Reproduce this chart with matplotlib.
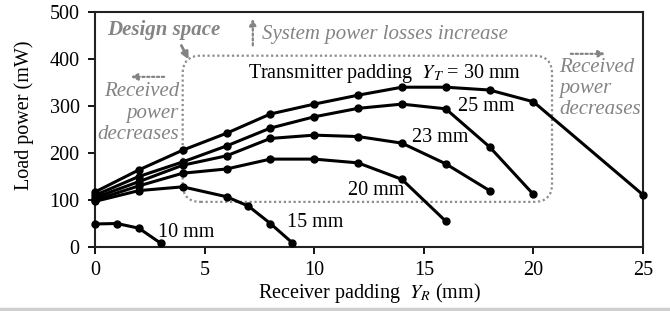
import numpy as np
import matplotlib
matplotlib.use("Agg")
import matplotlib.pyplot as plt
from matplotlib.patches import FancyBboxPatch
from matplotlib.lines import Line2D

plt.rcParams['font.family'] = ['Liberation Serif', 'DejaVu Serif']
plt.rcParams['mathtext.fontset'] = 'stix'

# receiver padding Y_R (mm) and load power (mW) for each transmitter padding Y_T
x30 = [0, 2, 4, 6, 8, 10, 12, 14, 16, 18, 20, 25]
y30 = [117, 164, 206, 242, 283, 304, 323, 340, 340, 334, 309, 111]
x25 = [0, 2, 4, 6, 8, 10, 12, 14, 16, 18, 20]
y25 = [110, 150, 181, 215, 253, 277, 295, 304, 294, 213, 112]
x23 = [0, 2, 4, 6, 8, 10, 12, 14, 16, 18]
y23 = [105, 139, 174, 194, 231, 238, 235, 221, 177, 120]
x20 = [0, 2, 4, 6, 8, 10, 12, 14, 16]
y20 = [100, 130, 157, 166, 187, 187, 179, 144, 55]
x15 = [0, 2, 4, 6, 7, 8, 9]
y15 = [97, 120, 128, 107, 87, 50, 9]
x10 = [0, 1, 2, 3]
y10 = [49, 50, 40, 8]

series = [(x30, y30), (x25, y25), (x23, y23), (x20, y20), (x15, y15), (x10, y10)]

gray = '#848484'
fs = 14.5
gfs = 15

fig = plt.figure(figsize=(6.7, 3.11), dpi=100)
ax = fig.add_axes([95/670, 1-247/311, (643-95)/670, (247-12)/311])

for xs, ys in series:
    ax.plot(xs, ys, color='black', lw=2.2, marker='o', ms=5, zorder=3, clip_on=False)

ax.set_xlim(0, 25)
ax.set_ylim(0, 500)
ax.set_xticks([0, 5, 10, 15, 20, 25])
ax.set_yticks([0, 100, 200, 300, 400, 500])
ax.tick_params(axis='both', direction='out', length=5, width=1.3, labelsize=14.5, colors='black')
ax.tick_params(axis='y', pad=6)
ax.tick_params(axis='x', pad=5)
for sp in ax.spines.values():
    sp.set_linewidth(1.5)
    sp.set_color('#222222')

ax.set_xlabel(r'Receiver padding  $Y_R$ (mm)', fontsize=fs, labelpad=1)
fig.text(24/670, 1-115/311, 'Load power (mW)', rotation=90, fontsize=fs,
         ha='center', va='center')

# design space box (dotted, rounded)
rx = 0.82
box = FancyBboxPatch((4.0, 96), 20.85-4.0, 407-96,
                     boxstyle=f"round,pad=0,rounding_size={rx}",
                     mutation_aspect=46.7, fill=False, ec='#8c8c8c',
                     lw=1.6, ls=(0, (1, 1.2)), zorder=2)
ax.add_patch(box)

# curve labels
ax.text(6.98, 370, r'Transmitter padding  $Y_T$ = 30 mm', fontsize=fs, ha='left', va='center')
ax.text(16.56, 298, '25 mm', fontsize=fs, ha='left', va='center')
ax.text(14.46, 234, '23 mm', fontsize=fs, ha='left', va='center')
ax.text(11.54, 121, '20 mm', fontsize=fs, ha='left', va='center')
ax.text(8.76, 53, '15 mm', fontsize=fs, ha='left', va='center')
ax.text(2.87, 30, '10 mm', fontsize=fs, ha='left', va='center')

# annotations in gray
ax.text(3.12, 462, 'Design space', fontsize=gfs, color=gray, style='italic',
        weight='bold', ha='center', va='center')
ax.annotate('', xy=(4.33, 394), xytext=(3.88, 434),
            arrowprops=dict(arrowstyle='-|>', color=gray, lw=2, mutation_scale=10))

ax.annotate('', xy=(7.2, 492), xytext=(7.2, 423),
            arrowprops=dict(arrowstyle='-|>', color=gray, lw=1.6, ls=(0, (1, 1.2)),
                            mutation_scale=10))
ax.text(7.62, 453, 'System power losses increase', fontsize=gfs, color=gray,
        style='italic', ha='left', va='center')

ax.annotate('', xy=(1.5, 362), xytext=(3.28, 362),
            arrowprops=dict(arrowstyle='-|>', color=gray, lw=1.6, ls=(0, (1, 1.2)),
                            mutation_scale=10))
ax.text(3.83, 285, 'Received\npower\ndecreases', fontsize=gfs, color=gray,
        style='italic', ha='right', va='center', multialignment='right', linespacing=1.15)

ax.annotate('', xy=(23.4, 411), xytext=(21.58, 411),
            arrowprops=dict(arrowstyle='-|>', color=gray, lw=1.6, ls=(0, (1, 1.2)),
                            mutation_scale=10))
ax.text(21.17, 338, 'Received\npower\ndecreases', fontsize=gfs, color=gray,
        style='italic', ha='left', va='center', multialignment='left', linespacing=1.15)

# light rule under the chart
fig.add_artist(Line2D([0, 1], [1-309/311, 1-309/311], transform=fig.transFigure,
                      color='#cfcfcf', lw=2.5))

fig.savefig('out.png', dpi=100)
